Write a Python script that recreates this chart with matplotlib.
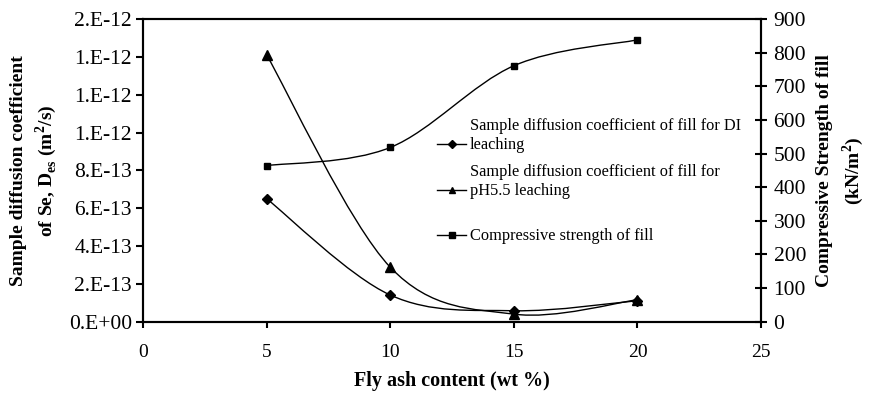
import numpy as np
import matplotlib
matplotlib.use('Agg')
import matplotlib.pyplot as plt
from matplotlib.path import Path
from matplotlib.patches import PathPatch
from matplotlib.ticker import MultipleLocator, FuncFormatter

plt.rcParams['font.family'] = ['Liberation Serif', 'DejaVu Serif']
plt.rcParams['mathtext.fontset'] = 'custom'
plt.rcParams['mathtext.rm'] = 'Liberation Serif'
plt.rcParams['mathtext.bf'] = 'Liberation Serif:bold'

# data
fly_ash = [5, 10, 15, 20]
de_di = [6.5e-13, 1.41e-13, 0.58e-13, 1.11e-13]
de_ph55 = [1.41e-12, 2.88e-13, 0.40e-13, 1.16e-13]
strength = [464, 518, 761, 838]

labels = ['Sample diffusion coefficient of fill for DI\nleaching',
          'Sample diffusion coefficient of fill for\npH5.5 leaching',
          'Compressive strength of fill']


def smooth_path(x, y):
    # Excel-like smoothed line (Catmull-Rom as cubic bezier)
    pts = np.column_stack([x, y]).astype(float)
    n = len(pts)
    verts = [pts[0]]
    codes = [Path.MOVETO]
    for i in range(n - 1):
        p0 = pts[max(i - 1, 0)]
        p1 = pts[i]
        p2 = pts[i + 1]
        p3 = pts[min(i + 2, n - 1)]
        verts += [p1 + (p2 - p0) / 6, p2 - (p3 - p1) / 6, p2]
        codes += [Path.CURVE4] * 3
    return Path(verts, codes)


def excel_sci(v, pos):
    m, e = f"{v:.0e}".split('e')
    return f"{m}.E{e}"


fig = plt.figure(figsize=(8.69, 3.94), dpi=100)
ax = fig.add_axes([0.1646, 0.1835, 0.7112, 0.7683])
ax2 = ax.twinx()

for a in (ax, ax2):
    for s in a.spines.values():
        s.set_linewidth(1.5)

ax.add_patch(PathPatch(smooth_path(fly_ash, de_di), fill=False, lw=1, ec='black'))
ax.plot(fly_ash, de_di, ls='none', marker='D', ms=5, color='black')
ax.add_patch(PathPatch(smooth_path(fly_ash, de_ph55), fill=False, lw=1, ec='black'))
ax.plot(fly_ash, de_ph55, ls='none', marker='^', ms=6.5, color='black')
ax2.add_patch(PathPatch(smooth_path(fly_ash, strength), fill=False, lw=1, ec='black'))
ax2.plot(fly_ash, strength, ls='none', marker='s', ms=5, color='black')

ax.set_xlim(0, 25)
ax.set_ylim(0, 1.6e-12)
ax2.set_ylim(0, 900)
ax.xaxis.set_major_locator(MultipleLocator(5))
ax.yaxis.set_major_locator(MultipleLocator(2e-13))
ax.yaxis.set_major_formatter(FuncFormatter(excel_sci))
ax2.yaxis.set_major_locator(MultipleLocator(100))

ax.tick_params(axis='x', direction='out', length=4, width=1.5, pad=12, labelsize=14)
ax.tick_params(axis='y', direction='out', length=5, width=1.5, pad=3, labelsize=15.5)
ax2.tick_params(axis='y', direction='inout', length=8, width=1.5, pad=5, labelsize=15.5)

ax.set_xlabel('Fly ash content (wt %)', fontsize=14.5, fontweight='bold', labelpad=7)
ax.set_ylabel('Sample diffusion coefficient\nof Se, $\\mathbf{D}_{\\mathbf{es}}$ ($\\mathbf{m}^{\\mathbf{2}}$/s)',
              fontsize=14, fontweight='bold', labelpad=7, linespacing=1.35)
ax2.set_ylabel('Compressive Strength of fill\n(kN/$\\mathbf{m}^{\\mathbf{2}}$)',
               fontsize=14, fontweight='bold', labelpad=7, linespacing=1.4)

# legend drawn by hand so that the marker sits on the first text line
markers = ['D', '^', 's']
msizes = [4, 5, 4]
leg_y = [0.587, 0.435, 0.287]
for mk, ms, yy, lab in zip(markers, msizes, leg_y, labels):
    ax.plot([0.476, 0.523], [yy, yy], color='black', lw=1, transform=ax.transAxes)
    ax.plot([0.4995], [yy], marker=mk, ms=ms, color='black', transform=ax.transAxes)
    ax.text(0.529, yy - 0.017, lab, transform=ax.transAxes, fontsize=11.8,
            va='baseline', ha='left', linespacing=1.25)

fig.savefig('out.png', dpi=100)
